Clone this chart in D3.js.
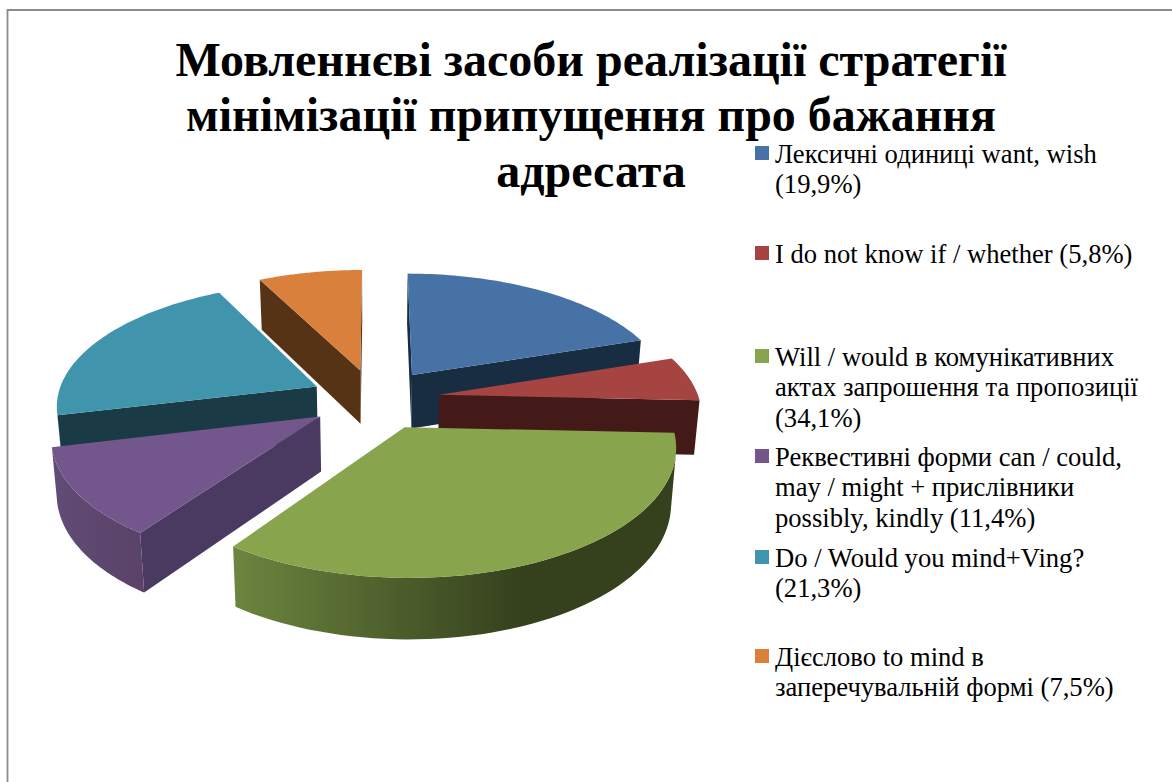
<!DOCTYPE html>
<html lang="uk">
<head>
<meta charset="utf-8">
<script src="https://cdn.jsdelivr.net/npm/d3@7"></script>
<style>
  html, body { margin: 0; padding: 0; background: #fff; }
  svg { display: block; font-family: "Liberation Serif", serif; }
</style>
</head>
<body>
<svg id="chart" width="1172" height="782"></svg>
<script>
// Share of each speech device, in percent
const categories = [
  ["Лексичні одиниці want, wish", "(19,9%)"],
  ["I do not know if / whether (5,8%)"],
  ["Will / would в комунікативних", "актах запрошення та пропозиції", "(34,1%)"],
  ["Реквестивні форми can / could,", "may / might + прислівники", "possibly, kindly (11,4%)"],
  ["Do / Would you mind+Ving?", "(21,3%)"],
  ["Дієслово to mind в", "заперечувальній формі (7,5%)"]
];
const shares = [19.9, 5.8, 34.1, 11.4, 21.3, 7.5];
const titleLines = [
  "Мовленнєві засоби реалізації стратегії",
  "мінімізації припущення про бажання",
  "адресата"
];
const topColors  = ["#4672a6", "#a64441", "#88a44d", "#72568c", "#4095ad", "#d9813c"];
const wallColors = ["#182c42", "#431a18", "#35401d", "#4a3960", "#1a3b46", "#573316"];
const rimLight   = ["#182c42", "#431a18", "#6c853f", "#614c76", "#1a3b46", "#573316"];
const rimDark    = ["#182c42", "#431a18", "#35401d", "#5a4268", "#1a3b46", "#573316"];
const legendRows = [154, 254, 357, 457, 558, 657];
const LINE_GAP = 30.3;

const svg = d3.select("#chart");

// Chart frame
svg.append("path")
  .attr("d", "M7.5 782V10H1172")
  .attr("fill", "none").attr("stroke", "#8c8c8c").attr("stroke-width", 1.8);

// Title
svg.append("g").selectAll("text").data(titleLines).join("text")
  .attr("x", 591).attr("y", (d, i) => 76 + i * 55.4)
  .attr("text-anchor", "middle")
  .attr("font-size", 48).attr("font-weight", 700).attr("fill", "#000")
  .text(d => d);

// Perspective view of the pie plane
const view = { cx: 375, cy: 399, a: 260, b: 121.5, k: 0.1376, explode: 0.25, depth: 54.5 };
const project = (px, py) => {
  const w = 1 + view.k * py;
  return [view.cx + view.a * px / w, view.cy - view.b * py / w];
};
const drop = ([x, y]) => [
  view.cx + 0.983 * (x - view.cx),
  y + view.depth + 0.039 * (y - view.cy)
];

const arcs = d3.pie().sort(null).value(d => d)(shares);
const line = d3.line();
const closed = pts => line(pts) + "Z";
const turn = (p, q, r) => (q[0] - p[0]) * (r[1] - p[1]) - (q[1] - p[1]) * (r[0] - p[0]);

const defs = svg.append("defs");
const pieG = svg.append("g");

// Back slices are painted first so nearer ones overlap them
[5, 0, 4, 1, 3, 2].forEach(i => {
  const a = arcs[i];
  const mid = (a.startAngle + a.endAngle) / 2;
  const ox = view.explode * Math.sin(mid), oy = view.explode * Math.cos(mid);
  const apex = project(ox, oy);
  const steps = d3.range(0, 61).map(s => a.startAngle + (a.endAngle - a.startAngle) * s / 60);
  const rim = steps.map(t => project(ox + Math.sin(t), oy + Math.cos(t)));
  const rimLow = rim.map(drop);
  const apexLow = drop(apex);
  const g = pieG.append("g");

  // Straight cut faces that look towards the viewer
  [[apex, rim[0], rimLow[0], apexLow], [rim[60], apex, apexLow, rimLow[60]]].forEach(q => {
    if (turn(q[0], q[1], q[2]) < 0) {
      g.append("path").attr("d", closed(q)).attr("fill", wallColors[i]);
    }
  });

  // Outer wall: only the stretch of the rim that faces the viewer
  const front = d3.range(0, 60).filter(s => turn(rim[s + 1], rim[s], rimLow[s]) > 0);
  if (front.length) {
    const first = front[0], last = front[front.length - 1] + 1;
    const upper = rim.slice(first, last + 1), lower = rimLow.slice(first, last + 1).reverse();
    const xs = upper.concat(lower).map(p => p[0]);
    const id = "wall" + i;
    const grad = defs.append("linearGradient").attr("id", id)
      .attr("gradientUnits", "userSpaceOnUse")
      .attr("x1", d3.min(xs)).attr("x2", d3.min(xs) + (i === 2 ? 290 : d3.max(xs) - d3.min(xs)))
      .attr("y1", 0).attr("y2", 0);
    grad.append("stop").attr("offset", 0).attr("stop-color", rimLight[i]);
    grad.append("stop").attr("offset", 1).attr("stop-color", rimDark[i]);
    g.append("path").attr("d", closed(upper.concat(lower))).attr("fill", `url(#${id})`);
  }

  // Top face
  g.append("path").attr("d", closed([apex].concat(rim))).attr("fill", topColors[i]);
});

// Legend
const legend = svg.append("g").selectAll("g").data(categories).join("g")
  .attr("transform", (d, i) => `translate(755,${legendRows[i]})`);
legend.append("rect")
  .attr("x", 0).attr("y", -8).attr("width", 14).attr("height", 14)
  .attr("fill", (d, i) => topColors[i]);
legend.selectAll("text").data(d => d).join("text")
  .attr("x", 20).attr("y", (d, i) => 9 + i * LINE_GAP)
  .attr("font-size", 26.6).attr("fill", "#000")
  .text(d => d);
</script>
</body>
</html>
